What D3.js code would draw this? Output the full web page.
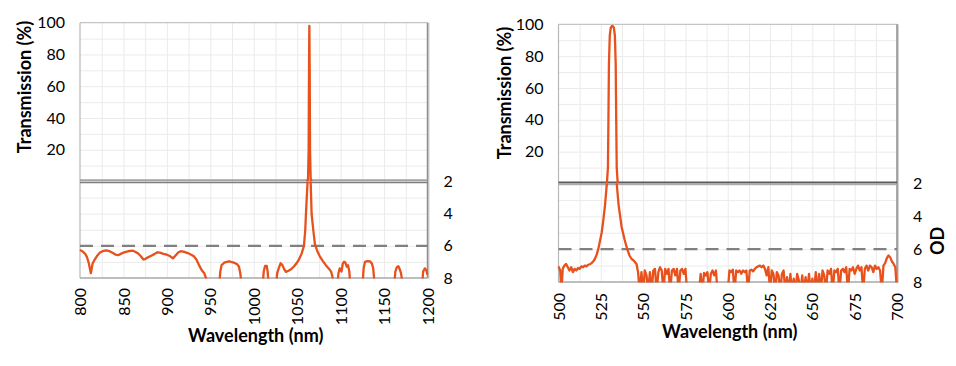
<!DOCTYPE html>
<html>
<head>
<meta charset="utf-8">
<script src="https://cdn.jsdelivr.net/npm/d3@7"></script>
<style>
  body { margin: 0; background: #fff; }
  text { font-family: Lato, "Open Sans", sans-serif; fill: #000; }
</style>
</head>
<body>
<svg id="chart" width="956" height="366"></svg>
<script>
// ---- data ----
let tTicks = [20, 40, 60, 80, 100]
let odTicks = [2, 4, 6, 8]
let odLimit = 6

// left: 1064 nm line filter
let nirTicks = [800, 850, 900, 950, 1000, 1050, 1100, 1150, 1200]
let nirPeakT = [[1061.5, 0], [1062.5, 2], [1063.2, 20], [1063.6, 70], [1064, 98], [1064.4, 70], [1064.8, 20], [1065.5, 2], [1066.5, 0]]
let nirOD = [
  [800, 6.25], [803, 6.35], [806, 6.5], [808, 6.7], [810, 7.05], [812.5, 7.7], [814.5, 7.1], [817, 6.85], [820, 6.6],
  [823, 6.42], [826, 6.33], [830, 6.28], [834, 6.33], [838, 6.45], [841, 6.55], [844, 6.58], [847, 6.5], [850, 6.42],
  [853, 6.37], [857, 6.32], [861, 6.3], [864, 6.38], [867, 6.48], [870, 6.65], [873, 6.85], [875, 6.82], [878, 6.72],
  [882, 6.62], [886, 6.5], [889, 6.4], [892, 6.42], [896, 6.5], [900, 6.55], [904, 6.65], [907, 6.78], [910, 6.6],
  [913, 6.42], [916, 6.33], [920, 6.38], [924, 6.45], [928, 6.55], [931, 6.65], [934, 6.85], [937, 7.2], [940, 7.5],
  [943, 7.7], [945, 8.0], [947, 8.6], [960, 8.6], [961.5, 7.6], [963, 7.2], [966, 7.05], [969, 7.0], [972, 6.96],
  [975, 7.02], [978, 7.06], [981, 7.15], [983, 7.3], [984.5, 7.7], [986.5, 8.6], [1010, 8.6], [1011.5, 7.6],
  [1013, 7.25], [1015, 7.25], [1016, 7.6], [1017.5, 8.6], [1025.5, 8.6], [1027, 7.7], [1029, 7.35], [1031, 7.08],
  [1033, 7.2], [1035, 7.45], [1037, 7.62], [1040, 7.55], [1043, 7.45], [1046, 7.3], [1049, 7.1], [1052, 6.85],
  [1055, 6.5], [1057.8, 6.0], [1059.3, 5.0], [1060.1, 4.0], [1061, 3.0], [1062, 2.0], [1063, 1.0], [1065, 1.0],
  [1065.5, 2.0], [1066.6, 4.0], [1068.5, 5.0], [1070.4, 5.9], [1073, 6.3], [1076, 6.65], [1079.6, 6.95], [1083, 7.2],
  [1087, 7.45], [1089, 7.6], [1090.5, 7.9], [1091.5, 8.6], [1096, 8.6], [1097.5, 7.7], [1099, 7.4], [1101, 7.6],
  [1102.5, 7.1], [1104, 6.98], [1105.5, 7.05], [1107, 7.3], [1108.5, 7.2], [1110, 7.6], [1111.5, 8.6], [1125, 8.6],
  [1126.5, 7.4], [1128, 7.0], [1131, 6.95], [1134, 6.97], [1136, 7.1], [1137.5, 7.4], [1139.5, 8.6], [1161.5, 8.6],
  [1163, 7.6], [1164.5, 7.35], [1166.5, 7.27], [1168, 7.45], [1169.5, 7.7], [1172, 8.6], [1193.5, 8.6], [1195, 7.6],
  [1197, 7.4], [1198.5, 7.5], [1200, 7.8]
]

// right: 532 nm line filter
let visTicks = [500, 525, 550, 575, 600, 625, 650, 675, 700]
let visPeakT = [[528.6, 0], [529.2, 10], [529.5, 40], [529.8, 75], [530.3, 93], [530.9, 98], [531.8, 99], [532.7, 98],
  [533.3, 93], [533.8, 75], [534.1, 40], [534.4, 10], [535, 0]]
let visOD = [
  [500, 7.05], [501, 7.3], [501.7, 8.6], [502.5, 7.2], [503.5, 7.0], [504.5, 6.9], [505.5, 7.1], [506.5, 7.3],
  [507.5, 7.1], [508.5, 7.4], [509.5, 7.2], [510.5, 7.3], [511.5, 7.15], [512.5, 7.2], [513.5, 7.05], [514.5, 7.1],
  [515.5, 7.0], [516.5, 7.05], [517.5, 6.95], [518.5, 6.92], [519.5, 6.85], [520.5, 6.75], [521.5, 6.6], [522.5, 6.35],
  [523.5, 6.0], [524.5, 5.5], [525.5, 5.0], [526.4, 4.3], [527.5, 3.3], [528.4, 2.2], [529, 1.5], [534, 1.5],
  [534.4, 2.0], [535.5, 3.3], [537.3, 4.65], [539, 5.4], [540.6, 6.0], [542, 6.4], [543.2, 6.6], [544.5, 6.7],
  [546.1, 6.9], [547, 7.4], [548, 8.6],
  [549, 7.4], [550, 8.6], [551, 7.3], [552, 7.6], [553, 8.6], [554, 7.4], [555, 8.6], [556, 7.3], [557, 7.2], [558, 8.6],
  [559, 7.4], [560, 7.1], [561, 7.3], [562, 8.6], [563, 7.2], [564, 7.5], [565, 7.2], [566, 8.6], [567, 7.3], [568, 7.2],
  [569, 7.6], [570, 7.2], [571, 8.6], [572, 7.3], [573, 7.2], [574, 7.5], [575, 7.2], [576, 8.6], [583, 8.6], [584, 7.5],
  [585, 8.6], [586, 7.45], [587, 7.6], [588, 7.4], [589, 8.6], [590, 7.5], [591, 7.3], [592, 7.6], [593, 7.3], [594, 8.6],
  [600, 8.6], [601, 7.3], [602, 7.4], [603, 7.25], [604, 8.6], [605, 7.3], [606, 7.4], [607, 7.3], [608, 7.5], [609, 7.3],
  [610, 7.4], [611, 7.3], [612, 8.6], [613, 7.3], [614, 7.25], [615, 7.35], [616, 7.2], [617, 7.1], [618, 7.05], [619, 7.0],
  [620, 7.1], [621, 7.0], [622, 7.2], [623, 7.6], [624, 7.1], [625, 8.6], [626, 7.3], [627, 7.5], [628, 8.6], [629, 7.4],
  [630, 7.6], [631, 8.6], [632, 7.5], [633, 7.3], [634, 8.6], [635, 7.7], [636, 8.6], [637, 7.5], [638, 8.6], [639, 7.8],
  [640, 8.6], [641, 7.5], [642, 7.9], [643, 8.6], [644, 7.6], [645, 8.6], [646, 7.7], [647, 8.6], [648, 7.5], [649, 8.6],
  [650, 7.8], [651, 8.6], [652, 7.4], [653, 8.6], [654, 7.5], [655, 8.6], [656, 7.3], [657, 7.6], [658, 8.6], [659, 7.3],
  [660, 7.5], [661, 7.2], [662, 8.6], [663, 7.3], [664, 7.4], [665, 7.2], [666, 8.6], [667, 7.3], [668, 7.2], [669, 7.4],
  [670, 7.1], [671, 8.6], [672, 7.2], [673, 7.3], [674, 7.1], [675, 7.5], [676, 7.2], [677, 7.0], [678, 7.3], [679, 7.1],
  [680, 8.6], [681, 7.2], [682, 7.0], [683, 7.3], [684, 7.0], [685, 7.1], [686, 7.4], [687, 7.0], [688, 7.2], [689, 7.1],
  [690, 7.3], [691, 8.6], [692, 7.0], [693, 6.85], [694, 6.55], [695, 6.38], [696, 6.5], [697, 6.75], [698, 6.9],
  [699, 7.1], [700, 8.6]
]

let svg = d3.select("#chart")
let orange = "#e8501c"

// layout of each of the two charts
let charts = [
  { id: "nir", domain: [800, 1200], ticks: nirTicks, gridStep: 25, peak: nirPeakT, od: nirOD,
    x0: 80, x1: 427.5, yTop: 22.7, ySep: 181.5, yBot: 278,
    sepA: { y: 180.2, c: "#a3a3a3", w: 2 }, sepB: { y: 182.6, c: "#7d7d7d", w: 1.5 },
    tickGap: 10, xTitleY: 342, yTitleX: 25, yTitleY: 87, odTitle: false },
  { id: "vis", domain: [500, 700], ticks: visTicks, gridStep: 12.5, peak: visPeakT, od: visOD,
    x0: 558.5, x1: 897, yTop: 24.3, ySep: 183.5, yBot: 282,
    sepA: { y: 182.4, c: "#5c5c5c", w: 2 }, sepB: { y: 184.4, c: "#acacac", w: 1.5 },
    tickGap: 11, xTitleY: 338, yTitleX: 505, yTitleY: 93, odTitle: true }
]

charts.forEach(drawChart)

function drawChart(c) {
  let g = svg.append("g").attr("class", "chart-" + c.id)

  let x = d3.scaleLinear().domain(c.domain).range([c.x0, c.x1])
  let yT = d3.scaleLinear().domain([0, 100]).range([c.ySep, c.yTop])
  let yOD = d3.scaleLinear().domain([2, 8]).range([c.ySep, c.yBot])

  // light gridlines
  let grid = g.append("g").attr("class", "grid")
  grid.append("g")
    .attr("transform", "translate(0," + c.yBot + ")")
    .call(d3.axisBottom(x).tickValues(d3.range(c.domain[0] + c.gridStep, c.domain[1], c.gridStep))
      .tickSize(-(c.yBot - c.yTop)).tickFormat(""))
  grid.append("g")
    .attr("transform", "translate(" + c.x0 + ",0)")
    .call(d3.axisLeft(yT).tickValues(d3.range(10, 100, 10)).tickSize(-(c.x1 - c.x0)).tickFormat(""))
  grid.append("g")
    .attr("transform", "translate(" + c.x0 + ",0)")
    .call(d3.axisLeft(yOD).tickValues([3, 4, 5, 6, 7]).tickSize(-(c.x1 - c.x0)).tickFormat(""))
  grid.selectAll(".domain").remove()
  grid.selectAll("line").attr("stroke", "#ebebeb").attr("stroke-width", 1)

  // plot borders
  g.append("line").attr("x1", c.x0).attr("x2", c.x1).attr("y1", c.yTop).attr("y2", c.yTop)
    .attr("stroke", "#c4c4c4").attr("stroke-width", 1.2)
  g.append("line").attr("x1", c.x0).attr("x2", c.x0).attr("y1", c.yTop).attr("y2", c.yBot)
    .attr("stroke", "#b8b8b8").attr("stroke-width", 1.2)
  g.append("line").attr("x1", c.x0).attr("x2", c.x1).attr("y1", c.yBot).attr("y2", c.yBot)
    .attr("stroke", "#a8a8a8").attr("stroke-width", 1.5)
  g.append("line").attr("x1", c.x1 + 1).attr("x2", c.x1 + 1).attr("y1", c.yTop).attr("y2", c.yBot + 1)
    .attr("stroke", "#d4d4d4").attr("stroke-width", 2)
  g.append("line").attr("x1", c.x1).attr("x2", c.x1).attr("y1", c.yTop).attr("y2", c.yBot)
    .attr("stroke", "#8f8f8f").attr("stroke-width", 1.5)

  // OD 6 limit
  g.append("line")
    .attr("x1", c.x0).attr("x2", c.x1)
    .attr("y1", yOD(odLimit)).attr("y2", yOD(odLimit))
    .attr("stroke", "#808080").attr("stroke-width", 2.3)
    .attr("stroke-dasharray", "13,8")

  // double line between the two panels
  ;[c.sepA, c.sepB].forEach(function (s) {
    g.append("line").attr("x1", c.x0).attr("x2", c.x1).attr("y1", s.y).attr("y2", s.y)
      .attr("stroke", s.c).attr("stroke-width", s.w)
  })

  // clip paths for the two panels
  let defs = g.append("defs")
  defs.append("clipPath").attr("id", "clipT-" + c.id)
    .append("rect").attr("x", c.x0).attr("y", c.yTop - 3).attr("width", c.x1 - c.x0).attr("height", c.ySep - c.yTop + 3)
  defs.append("clipPath").attr("id", "clipOD-" + c.id)
    .append("rect").attr("x", c.x0 - 1).attr("y", c.ySep).attr("width", c.x1 - c.x0 + 2).attr("height", c.yBot - c.ySep + 0.5)

  // spectrum: transmission on top, optical density below
  let lineT = d3.line().x(function (d) { return x(d[0]) }).y(function (d) { return yT(d[1]) })
  let lineOD = d3.line().x(function (d) { return x(d[0]) }).y(function (d) { return yOD(d[1]) })

  g.append("path").datum(c.od)
    .attr("d", lineOD)
    .attr("clip-path", "url(#clipOD-" + c.id + ")")
    .attr("fill", "none").attr("stroke", orange).attr("stroke-width", 2.3)
    .attr("stroke-linejoin", "round")
  g.append("path").datum(c.peak)
    .attr("d", lineT)
    .attr("clip-path", "url(#clipT-" + c.id + ")")
    .attr("fill", "none").attr("stroke", orange).attr("stroke-width", 2.3)
    .attr("stroke-linejoin", "round")

  // axes (labels only)
  let axT = g.append("g")
    .attr("transform", "translate(" + c.x0 + ",0)")
    .call(d3.axisLeft(yT).tickValues(tTicks).tickSize(0).tickPadding(15).tickFormat(d3.format("d")))
  let axOD = g.append("g")
    .attr("transform", "translate(" + c.x1 + ",0)")
    .call(d3.axisRight(yOD).tickValues(odTicks).tickSize(0).tickPadding(16).tickFormat(d3.format("d")))
  let axX = g.append("g")
    .attr("transform", "translate(0," + c.yBot + ")")
    .call(d3.axisBottom(x).tickValues(c.ticks).tickSize(0).tickFormat(d3.format("d")))
  axX.selectAll("text")
    .attr("transform", "rotate(-90)")
    .attr("x", -c.tickGap).attr("y", 0).attr("dy", "0.35em")
    .style("text-anchor", "end")

  ;[axT, axOD, axX].forEach(function (a) {
    a.select(".domain").remove()
    a.attr("font-family", null).attr("font-size", null)
    a.selectAll("text").style("font-size", "16px").style("fill", "#000")
  })

  // titles
  g.append("text")
    .attr("x", (c.x0 + c.x1) / 2 + 2).attr("y", c.xTitleY)
    .style("text-anchor", "middle").style("font-size", "18px").style("font-weight", "bold")
    .text("Wavelength (nm)")
  g.append("text")
    .attr("transform", "translate(" + c.yTitleX + "," + c.yTitleY + ") rotate(-90)")
    .attr("dy", "0.35em")
    .style("text-anchor", "middle").style("font-size", "18px").style("font-weight", "bold")
    .text("Transmission (%)")
  if (c.odTitle) {
    g.append("text")
      .attr("transform", "translate(938," + yOD(5.5) + ") rotate(-90)")
      .attr("dy", "0.35em")
      .style("text-anchor", "middle").style("font-size", "18px").style("font-weight", "bold")
      .text("OD")
  }
}
</script>
</body>
</html>
